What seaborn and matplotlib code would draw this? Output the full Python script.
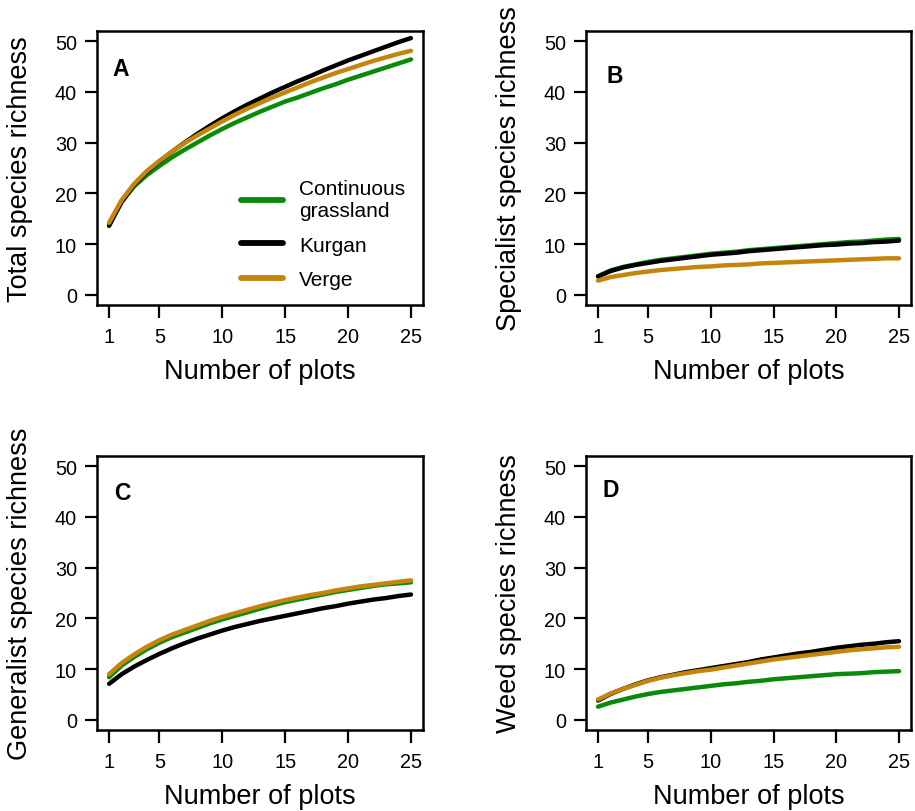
import numpy as np
import pandas as pd
import matplotlib
matplotlib.use("Agg")
import matplotlib.pyplot as plt
import seaborn as sns
from matplotlib.lines import Line2D

# rarefaction curves (number of plots 1..25)
n_plots = list(range(1, 26))
habitats = ["Continuous grassland", "Kurgan", "Verge"]

total_grass = [14.0, 18.4, 21.4, 23.6, 25.4, 27.1, 28.6, 30.0, 31.4, 32.7, 33.9, 35.0, 36.1,
               37.1, 38.1, 38.9, 39.8, 40.7, 41.5, 42.4, 43.2, 44.0, 44.8, 45.6, 46.4]
total_kurgan = [13.6, 18.3, 21.7, 24.2, 26.3, 28.2, 30.0, 31.7, 33.3, 34.8, 36.2, 37.5, 38.7,
                39.9, 41.0, 42.1, 43.1, 44.2, 45.2, 46.2, 47.1, 48.0, 48.9, 49.8, 50.6]
total_verge = [14.2, 18.7, 21.9, 24.4, 26.4, 28.2, 29.9, 31.4, 32.8, 34.2, 35.5, 36.7, 37.8,
               38.9, 39.9, 40.9, 41.9, 42.8, 43.7, 44.5, 45.3, 46.1, 46.8, 47.5, 48.1]

spec_grass = [3.7, 4.8, 5.5, 6.0, 6.5, 6.9, 7.2, 7.5, 7.8, 8.1, 8.3, 8.5, 8.8,
              9.0, 9.2, 9.4, 9.6, 9.8, 10.0, 10.2, 10.4, 10.5, 10.7, 10.9, 11.0]
spec_kurgan = [3.6, 4.7, 5.4, 5.9, 6.3, 6.7, 7.0, 7.3, 7.6, 7.9, 8.1, 8.3, 8.6,
               8.8, 9.0, 9.2, 9.4, 9.6, 9.8, 9.9, 10.1, 10.2, 10.4, 10.5, 10.7]
spec_verge = [2.8, 3.5, 3.9, 4.3, 4.6, 4.9, 5.1, 5.3, 5.5, 5.6, 5.8, 5.9, 6.0,
              6.2, 6.3, 6.4, 6.5, 6.6, 6.7, 6.8, 6.9, 7.0, 7.1, 7.2, 7.2]

gen_grass = [8.4, 10.7, 12.4, 13.9, 15.2, 16.3, 17.2, 18.1, 19.0, 19.8, 20.5, 21.2, 21.9,
             22.6, 23.2, 23.7, 24.2, 24.7, 25.2, 25.6, 26.0, 26.4, 26.7, 26.9, 27.1]
gen_kurgan = [7.1, 9.0, 10.5, 11.8, 13.0, 14.1, 15.1, 16.0, 16.8, 17.6, 18.3, 18.9, 19.5,
              20.0, 20.5, 21.0, 21.5, 22.0, 22.4, 22.9, 23.3, 23.7, 24.0, 24.4, 24.7]
gen_verge = [9.0, 11.2, 12.9, 14.4, 15.7, 16.8, 17.7, 18.6, 19.5, 20.3, 21.0, 21.7, 22.4,
             23.0, 23.6, 24.1, 24.6, 25.0, 25.5, 25.9, 26.3, 26.6, 26.9, 27.2, 27.5]

weed_grass = [2.6, 3.4, 4.0, 4.6, 5.1, 5.5, 5.8, 6.1, 6.4, 6.7, 7.0, 7.2, 7.5,
              7.7, 8.0, 8.2, 8.4, 8.6, 8.8, 9.0, 9.1, 9.2, 9.4, 9.5, 9.6]
weed_kurgan = [3.8, 5.1, 6.1, 7.0, 7.8, 8.4, 8.9, 9.4, 9.8, 10.2, 10.6, 11.0, 11.4,
               11.9, 12.3, 12.7, 13.1, 13.4, 13.8, 14.2, 14.5, 14.8, 15.0, 15.3, 15.5]
weed_verge = [4.0, 5.2, 6.1, 6.9, 7.7, 8.3, 8.8, 9.2, 9.6, 9.9, 10.3, 10.7, 11.1,
              11.5, 11.9, 12.2, 12.5, 12.8, 13.1, 13.4, 13.7, 13.9, 14.1, 14.3, 14.4]

panels = [
    ("A", "Total species richness", total_grass, total_kurgan, total_verge),
    ("B", "Specialist species richness", spec_grass, spec_kurgan, spec_verge),
    ("C", "Generalist species richness", gen_grass, gen_kurgan, gen_verge),
    ("D", "Weed species richness", weed_grass, weed_kurgan, weed_verge),
]

colors = {"Continuous grassland": "#0A8A0A", "Kurgan": "#000000", "Verge": "#C4850C"}

sns.set_style("ticks")
plt.rcParams["font.family"] = ["Liberation Sans", "DejaVu Sans"]
for key in ["text.color", "axes.labelcolor", "xtick.color", "ytick.color", "axes.edgecolor"]:
    plt.rcParams[key] = "black"

fig = plt.figure(figsize=(9.15, 8.12), dpi=100)
W, H = 915, 812
# panel frames in pixels: left, top, right, bottom
frames = [(97, 32, 423, 306), (586, 32, 911, 306), (97, 457, 423, 731), (586, 457, 911, 731)]
# panel letter left / baseline in pixels
letter_pos = [(112, 76), (606, 83), (114, 500), (602, 497)]

for (letter, ylab, g, k, v), (l, t, r, b), (lx, ly) in zip(panels, frames, letter_pos):
    ax = fig.add_axes([l / W, (H - b) / H, (r - l) / W, (b - t) / H])
    df = pd.DataFrame({
        "plots": n_plots * 3,
        "richness": g + k + v,
        "habitat": np.repeat(habitats, len(n_plots)),
    })
    sns.lineplot(data=df, x="plots", y="richness", hue="habitat", palette=colors,
                 hue_order=habitats, linewidth=3.2, ax=ax, legend=False)
    ax.set_xlim(0.04, 25.96)
    ax.set_ylim(-2, 52)
    ax.set_xticks([1, 5, 10, 15, 20, 25])
    ax.set_yticks([0, 10, 20, 30, 40, 50])
    ax.tick_params(axis="both", labelsize=14.3, length=9, width=1.6, direction="out")
    ax.tick_params(axis="x", pad=7)
    ax.tick_params(axis="y", pad=5.5)
    for s in ax.spines.values():
        s.set_linewidth(1.8)
        s.set_visible(True)
    ax.set_xlabel("Number of plots", fontsize=19.5, labelpad=8.5)
    ax.set_ylabel(ylab, fontsize=19.5, labelpad=16)
    ax.text((lx - l) / (r - l), (b - ly) / (b - t), letter, transform=ax.transAxes,
            fontsize=16.5, fontweight="bold", va="baseline", ha="left")
    if letter == "A":
        handles = [Line2D([], [], color=colors[h], linewidth=4.2, solid_capstyle="round")
                   for h in habitats]
        ax.legend(handles, ["Continuous\ngrassland", "Kurgan", "Verge"],
                  loc="upper left", bbox_to_anchor=((241 - l) / (r - l), (b - 180) / (b - t)),
                  frameon=False, fontsize=15, handlelength=2.0, handletextpad=0.8,
                  labelspacing=0.75, borderpad=0, borderaxespad=0)

fig.savefig("out.png", dpi=100)
